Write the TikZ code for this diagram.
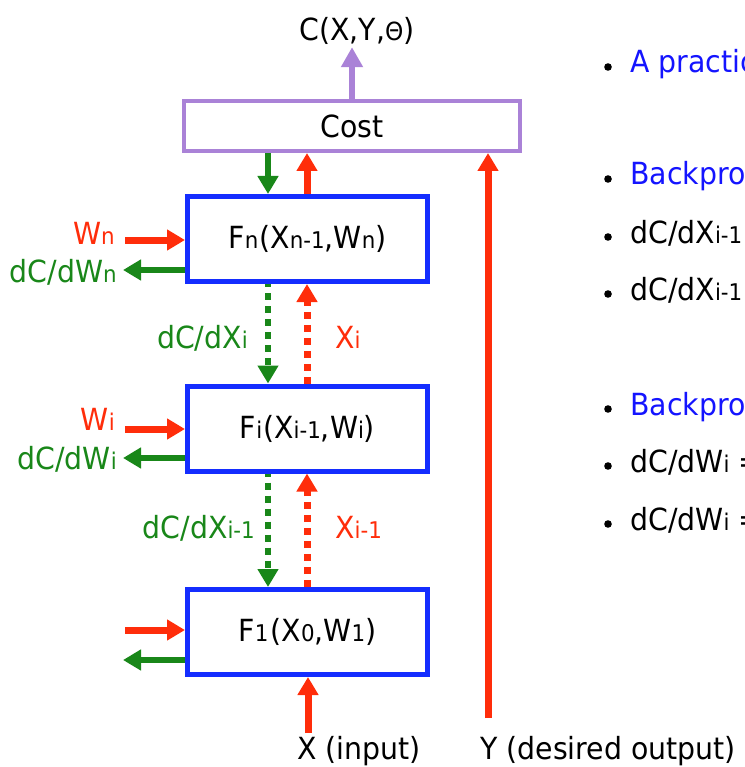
\documentclass[tikz,border=0pt]{standalone}
\usepackage{fontspec}
\setmainfont{DejaVu Sans}[FakeStretch=0.93]
\usetikzlibrary{arrows.meta}
\definecolor{cred}{RGB}{255,45,10}
\definecolor{cgreen}{RGB}{25,135,25}
\definecolor{cblue}{RGB}{20,45,255}
\definecolor{cpurple}{RGB}{170,130,215}
\definecolor{tblue}{RGB}{20,20,255}
% smaller index letters set on the baseline
\newcommand\subt[1]{{\fontsize{23}{23}\selectfont #1}}
\begin{document}
\begin{tikzpicture}[x=1pt,y=-1pt,
  txt/.style={font=\fontsize{30.5}{34}\selectfont, inner sep=0pt},
  fbox/.style={draw=cblue, line width=5pt, minimum width=240pt, minimum height=85pt, txt},
  costbox/.style={draw=cpurple, line width=4pt, minimum width=336pt, minimum height=50pt, txt},
  arr/.style={line width=7pt, -{Triangle[width=20pt,length=18pt]}},
  redarr/.style={arr, color=cred},
  greenarr/.style={arr, color=cgreen, line width=6pt},
  purplearr/.style={arr, color=cpurple, line width=6.5pt, -{Triangle[width=21pt,length=20pt]}},
  dotline/.style={dash pattern=on 7pt off 6pt},
  redlbl/.style={txt, text=cred},
  greenlbl/.style={txt, text=cgreen},
  bullet/.style={fill=black},
]
\useasboundingbox (0,0) rectangle (744,767);
\clip (0,0) rectangle (744,767);

% ---- cost module and its output
\node[costbox] (cost) at (352,126) {Cost};
\node[txt, inner sep=2pt, anchor=base] (cxy) at (357,41)
  {C(X,Y,{\fontsize{25}{25}\selectfont Θ})};
\coordinate (px) at (352,0);
\draw[purplearr] (cost.north -| px) -- (cxy.south -| px);

% ---- the three modules
\node[fbox] (fn) at (307.5,239) {F\subt{n}\kern1pt(X\subt{n-1},W\subt{n})};
\node[fbox] (fi) at (307.5,428.5) {F\subt{i}\kern1pt(X\subt{i-1},W\subt{i})};
\node[fbox] (f1) at (307.5,632) {F\subt{1}\kern2pt(X\subt{0},W\subt{1})};

% columns of the vertical connectors
\coordinate (gx) at (268,0);
\coordinate (rx) at (307,0);
\coordinate (yx) at (488,0);

% cost <-> Fn
\draw[greenarr] (cost.south -| gx) -- (fn.north -| gx);
\draw[redarr] (fn.north -| rx) -- (cost.south -| rx);

% Fn <-> Fi
\draw[greenarr, dotline, dash phase=4pt] (fn.south -| gx) -- (fi.north -| gx);
\draw[redarr, dotline] (fi.north -| rx) -- (fn.south -| rx);
\node[greenlbl, anchor=base east] (dxi) at (248,348) {dC/dX\subt{i}};
\node[redlbl, anchor=base west] (xi) at (335,348) {X\subt{i}};

% Fi <-> F1
\draw[greenarr, dotline, dash phase=4pt] (fi.south -| gx) -- (f1.north -| gx);
\draw[redarr, dotline] (f1.north -| rx) -- (fi.south -| rx);
\node[greenlbl, anchor=base east] (dxim) at (255,538) {dC/dX\subt{i-1}};
\node[redlbl, anchor=base west] (xim) at (335,538) {X\subt{i-1}};

% ---- parameter inputs and gradient outputs
\coordinate (wn) at (125,240);  \coordinate (gn) at (123,270);
\coordinate (wi) at (125,429);  \coordinate (gi) at (123,458);
\coordinate (w1) at (125,630);  \coordinate (g1) at (123,660);
\draw[redarr] (wn) -- (wn -| fn.west);
\draw[greenarr] (gn -| fn.west) -- (gn);
\draw[redarr] (wi) -- (wi -| fi.west);
\draw[greenarr] (gi -| fi.west) -- (gi);
\draw[redarr] (w1) -- (w1 -| f1.west);
\draw[greenarr] (g1 -| f1.west) -- (g1);
\node[redlbl, anchor=base east] (lwn) at (115,244) {W\subt{n}};
\node[greenlbl, anchor=base east] (lgn) at (117,282) {dC/dW\subt{n}};
\node[redlbl, anchor=base east] (lwi) at (115,430) {W\subt{i}};
\node[greenlbl, anchor=base east] (lgi) at (117,469) {dC/dW\subt{i}};

% ---- input X and desired output Y
\node[txt, anchor=base west] (xin) at (297,759) {X (input)};
\node[txt, anchor=base west] (yout) at (480,759) {Y (desired output)};
\coordinate (xstart) at (308,733);
\coordinate (ystart) at (488,718);
\draw[redarr] (xstart) -- (f1.south -| xstart);
\draw[redarr] (ystart) -- (cost.south -| yx);

% ---- bullet notes on the right
\foreach \yb/\col/\body [count=\k] in {
  73/tblue/{A practic},
  185/tblue/{Backprop},
  243/black/{dC/dX\subt{i-1}},
  300/black/{dC/dX\subt{i-1}},
  415/tblue/{Backprop},
  472/black/{dC/dW\subt{i} =},
  530/black/{dC/dW\subt{i} =}} {
  \fill[bullet] (608,\yb-6) circle (3.8pt);
  \node[txt, text=\col, anchor=base west] (note\k) at (630,\yb) {\body};
}
\end{tikzpicture}
\end{document}
